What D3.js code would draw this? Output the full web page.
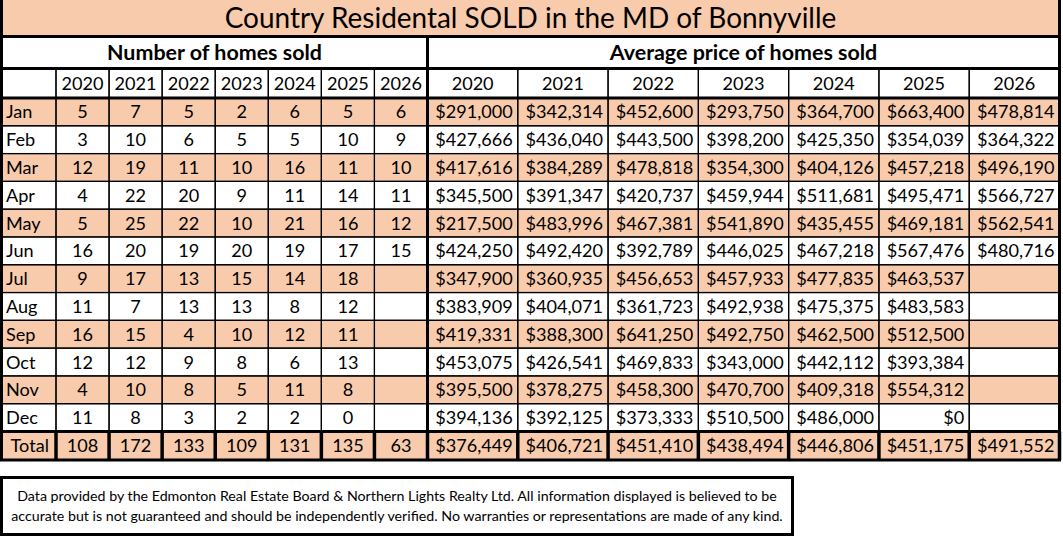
<!DOCTYPE html>
<html>
<meta charset="utf-8">
  <head>
    <script src="https://d3js.org/d3.v7.min.js"></script>
    <style>
      body { margin: 0; background: #fff; }
    </style>
  </head>
  <body>
    <div id="my_table"></div>
    <script>

    // ---- data ----
    var title = "Country Residental SOLD in the MD of Bonnyville";
    var leftHeader = "Number of homes sold";
    var rightHeader = "Average price of homes sold";
    var months = ["Jan","Feb","Mar","Apr","May","Jun","Jul","Aug","Sep","Oct","Nov","Dec"];
    var years = ["2020","2021","2022","2023","2024","2025","2026"];

    // homes sold, one list per year (Jan..Dec), null = no data yet
    var sold2020 = [5, 3, 12, 4, 5, 16, 9, 11, 16, 12, 4, 11];
    var sold2021 = [7, 10, 19, 22, 25, 20, 17, 7, 15, 12, 10, 8];
    var sold2022 = [5, 6, 11, 20, 22, 19, 13, 13, 4, 9, 8, 3];
    var sold2023 = [2, 5, 10, 9, 10, 20, 15, 13, 10, 8, 5, 2];
    var sold2024 = [6, 5, 16, 11, 21, 19, 14, 8, 12, 6, 11, 2];
    var sold2025 = [5, 10, 11, 14, 16, 17, 18, 12, 11, 13, 8, 0];
    var sold2026 = [6, 9, 10, 11, 12, 15, null, null, null, null, null, null];
    var soldTotals = [108, 172, 133, 109, 131, 135, 63];

    // average price, one list per year (Jan..Dec)
    var price2020 = [291000, 427666, 417616, 345500, 217500, 424250, 347900, 383909, 419331, 453075, 395500, 394136];
    var price2021 = [342314, 436040, 384289, 391347, 483996, 492420, 360935, 404071, 388300, 426541, 378275, 392125];
    var price2022 = [452600, 443500, 478818, 420737, 467381, 392789, 456653, 361723, 641250, 469833, 458300, 373333];
    var price2023 = [293750, 398200, 354300, 459944, 541890, 446025, 457933, 492938, 492750, 343000, 470700, 510500];
    var price2024 = [364700, 425350, 404126, 511681, 435455, 467218, 477835, 475375, 462500, 442112, 409318, 486000];
    var price2025 = [663400, 354039, 457218, 495471, 469181, 567476, 463537, 483583, 512500, 393384, 554312, 0];
    var price2026 = [478814, 364322, 496190, 566727, 562541, 480716, null, null, null, null, null, null];
    var priceTotals = [376449, 406721, 451410, 438494, 446806, 451175, 491552];

    var footerLines = [
      "Data provided by the Edmonton Real Estate Board & Northern Lights Realty Ltd. All information displayed is believed to be",
      "accurate but is not guaranteed and should be independently verified. No warranties or representations are made of any kind."
    ];

    var soldByYear = [sold2020, sold2021, sold2022, sold2023, sold2024, sold2025, sold2026];
    var priceByYear = [price2020, price2021, price2022, price2023, price2024, price2025, price2026];

    // ---- layout ----
    var width = 1063, height = 537;
    var FONT = "Lato, 'Open Sans', sans-serif";
    var peach = "#f8cbad", ink = "#000";

    var left = 1.5, right = 1059.5;
    var monthRight = 56, split = 427.5;
    var titleBottom = 36.5, headBottom = 68.5, yearBottom = 98,
        bodyBottom = 431.5, totalBottom = 460;

    var svg = d3.select("#my_table")
      .append("svg")
        .attr("width", width)
        .attr("height", height);

    // scales for columns and rows
    var xCount = d3.scaleBand().domain(years).range([monthRight, split]);
    var xPrice = d3.scaleBand().domain(years).range([split, right]);
    var y = d3.scaleBand().domain(months).range([yearBottom, bodyBottom]);

    var money = d3.format("$,");

    // size a font so a sample string gets a given width
    function fit(str, weight, target) {
      var t = svg.append("text")
        .style("font-family", FONT).style("font-weight", weight)
        .style("font-size", "100px").text(str);
      var w = t.node().getComputedTextLength();
      t.remove();
      return 100 * target / w;
    }
    var titleSize = fit(title, 400, 612);
    var headSize = fit(leftHeader, 700, 215);
    var cellSize = Math.min(fit("$427,666", 400, 79), fit("2020", 400, 42));
    var footSize = fit(footerLines[1], 400, 772);

    // baseline that centres capitals on a given y
    function mid(cy, size) { return cy + 0.358 * size; }

    function label(x, cy, str, size, anchor, weight) {
      svg.append("text")
        .attr("x", x)
        .attr("y", mid(cy, size))
        .attr("text-anchor", anchor)
        .style("font-family", FONT)
        .style("font-weight", weight || 400)
        .style("font-size", size + "px")
        .style("fill", ink)
        .text(str);
    }

    // ---- backgrounds ----
    svg.append("rect")
      .attr("x", left).attr("y", 0)
      .attr("width", right - left).attr("height", titleBottom)
      .attr("fill", peach);

    svg.selectAll(".rowbg")
      .data(months)
      .enter()
      .append("rect")
        .attr("x", left)
        .attr("y", function(d) { return y(d); })
        .attr("width", right - left)
        .attr("height", y.bandwidth())
        .attr("fill", function(d, i) { return i % 2 === 0 ? peach : "#fff"; });

    svg.append("rect")
      .attr("x", left).attr("y", bodyBottom)
      .attr("width", right - left).attr("height", totalBottom - bodyBottom)
      .attr("fill", peach);

    // ---- thin grid ----
    var thin = svg.append("g")
      .attr("stroke", ink).attr("stroke-width", 1.2).attr("fill", "none");

    var rowTops = [headBottom].concat(months.map(function(m) { return y(m); }));
    var rowHeights = [yearBottom - headBottom].concat(months.map(function() { return y.bandwidth(); }));
    rowTops.forEach(function(top, r) {
      var h = rowHeights[r];
      thin.append("rect").attr("x", left).attr("y", top).attr("width", monthRight - left).attr("height", h);
      years.forEach(function(yr) {
        thin.append("rect").attr("x", xCount(yr)).attr("y", top).attr("width", xCount.bandwidth()).attr("height", h);
        thin.append("rect").attr("x", xPrice(yr)).attr("y", top).attr("width", xPrice.bandwidth()).attr("height", h);
      });
    });

    // ---- thick borders ----
    var thick = svg.append("g")
      .attr("stroke", ink).attr("stroke-width", 3).attr("fill", "none");

    thick.append("path")
      .attr("d", "M" + left + ",0V" + totalBottom + "H" + right + "V0");
    [titleBottom, headBottom, yearBottom, bodyBottom].forEach(function(yy) {
      thick.append("line").attr("x1", left).attr("x2", right).attr("y1", yy).attr("y2", yy);
    });
    thick.append("line").attr("x1", split).attr("x2", split).attr("y1", titleBottom).attr("y2", totalBottom);

    // every cell of the Total row is boxed thick
    var totalEdges = [monthRight]
      .concat(years.map(function(yr) { return xCount(yr) + xCount.bandwidth(); }))
      .concat(years.map(function(yr) { return xPrice(yr) + xPrice.bandwidth(); }));
    totalEdges.forEach(function(xx) {
      thick.append("line").attr("x1", xx).attr("x2", xx).attr("y1", bodyBottom).attr("y2", totalBottom)
        .attr("stroke-width", 3.5);
    });

    // ---- texts ----
    label((left + right) / 2, titleBottom / 2 - 0.5, title, titleSize, "middle");
    label((left + split) / 2, (titleBottom + headBottom) / 2, leftHeader, headSize, "middle", 700);
    label((split + right) / 2, (titleBottom + headBottom) / 2, rightHeader, headSize, "middle", 700);

    var yearMid = (headBottom + yearBottom) / 2;
    years.forEach(function(yr) {
      label(xCount(yr) + xCount.bandwidth() / 2, yearMid, yr, cellSize, "middle");
      label(xPrice(yr) + xPrice.bandwidth() / 2, yearMid, yr, cellSize, "middle");
    });

    months.forEach(function(m, i) {
      var cy = y(m) + y.bandwidth() / 2;
      label(left + 4.5, cy, m, cellSize, "start");
      years.forEach(function(yr, j) {
        var n = soldByYear[j][i];
        if (n !== null) label(xCount(yr) + xCount.bandwidth() / 2, cy, n, cellSize, "middle");
        var p = priceByYear[j][i];
        if (p !== null) label(xPrice(yr) + xPrice.bandwidth() - 5, cy, money(p), cellSize, "end");
      });
    });

    var totalMid = (bodyBottom + totalBottom) / 2;
    label((left + monthRight) / 2 + 1, totalMid, "Total", cellSize, "middle");
    years.forEach(function(yr, j) {
      label(xCount(yr) + xCount.bandwidth() / 2, totalMid, soldTotals[j], cellSize, "middle");
      label(xPrice(yr) + xPrice.bandwidth() - 5, totalMid, money(priceTotals[j]), cellSize, "end");
    });

    // ---- footer note ----
    svg.append("rect")
      .attr("x", left).attr("y", 477.5)
      .attr("width", 791).attr("height", 57)
      .attr("fill", "#fff").attr("stroke", ink).attr("stroke-width", 3);
    label(397, 496, footerLines[0], footSize, "middle");
    label(397, 515.5, footerLines[1], footSize, "middle");

    </script>
  </body>
</html>
